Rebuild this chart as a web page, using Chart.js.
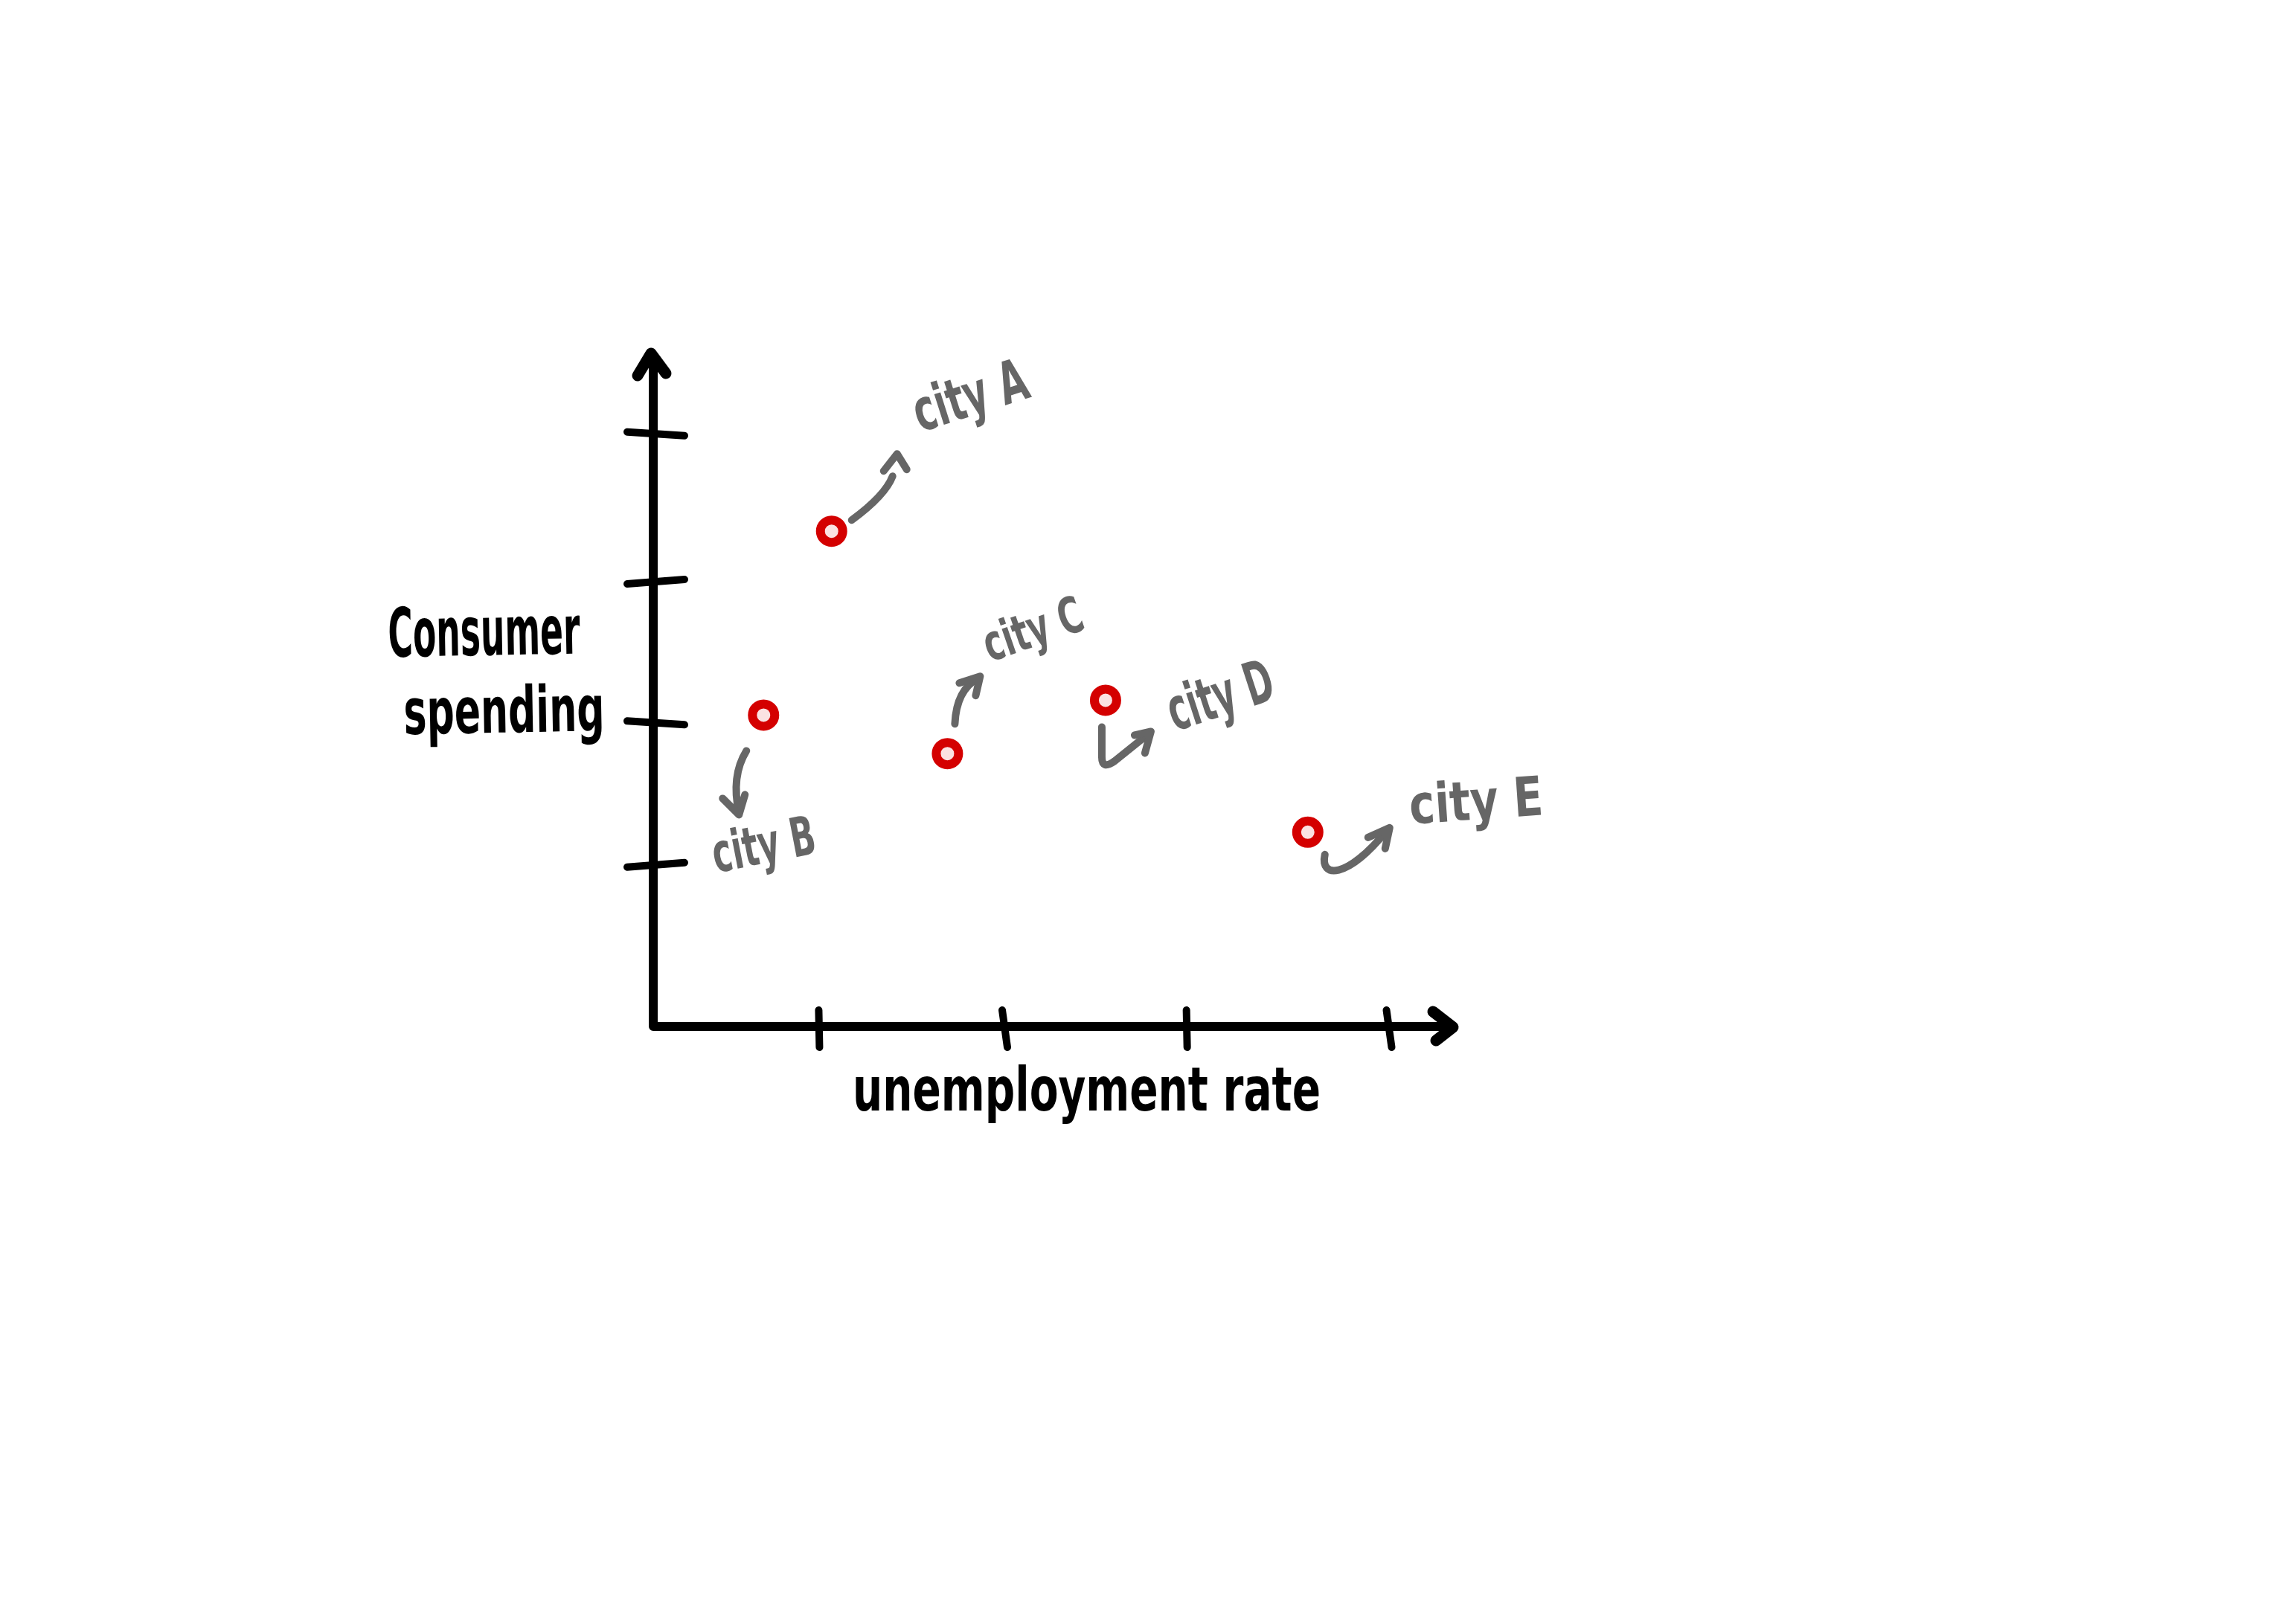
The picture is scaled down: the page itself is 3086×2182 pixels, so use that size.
<!DOCTYPE html>
<html>
<head>
<meta charset="utf-8">
<script src="https://cdn.jsdelivr.net/npm/chart.js@4.4.1/dist/chart.umd.min.js"></script>
<style>
  html, body { margin: 0; padding: 0; background: #fff; }
  #wrap { width: 3086px; height: 2182px; }
</style>
</head>
<body>
<div id="wrap"><canvas id="sketch" width="3086" height="2182"></canvas></div>
<script>
// values (axis units = tick spacing)
var cities = ["city A", "city B", "city C", "city D", "city E"];
var unemployment = [0.97, 0.60, 1.60, 2.46, 3.56];
var spending = [3.34, 2.10, 1.84, 2.20, 1.31];
var xTicks = [0.90, 1.91, 2.90, 4.00];
var yTicks = [1.09, 2.05, 3.00, 4.00];
var xMax = 4.35;
var yMax = 4.54;
var xTitle = "unemployment rate";
var yTitle = ["Consumer", "spending"];

var ink = "#000000";
var pencil = "#666666";

// where each label sits relative to its point (px), rotation in degrees
var labelLayout = [
    { dx: 119, dy: -133, ang: -17.6, w: 158, xh: 43 },
    { dx: -64, dy: 212, ang: -11, w: 140, xh: 40 },
    { dx: 57, dy: -123, ang: -19, w: 138, xh: 37 },
    { dx: 93, dy: 42, ang: -18, w: 146, xh: 44 },
    { dx: 138, dy: -11, ang: -4, w: 180, xh: 40 }
]

function fitText(ctx, text, x, y, w, xh, angle, color) {
    var size = xh / 0.547
    ctx.save()
    ctx.translate(x, y)
    ctx.rotate(angle * Math.PI / 180)
    ctx.font = "bold " + size + "px 'DejaVu Sans'"
    ctx.textAlign = "left"
    ctx.textBaseline = "alphabetic"
    var m = ctx.measureText(text).width
    ctx.scale(w / m, 1)
    ctx.fillStyle = color
    ctx.fillText(text, 0, 0)
    ctx.restore()
}

function head(ctx, ax, ay, l1x, l1y, l2x, l2y) {
    ctx.beginPath()
    ctx.moveTo(l1x, l1y)
    ctx.lineTo(ax, ay)
    ctx.lineTo(l2x, l2y)
    ctx.stroke()
}

// little hand arrows from each point towards its label
function drawArrow(ctx, i, px, py) {
    ctx.save()
    ctx.translate(px, py)
    ctx.strokeStyle = pencil
    ctx.lineWidth = 10
    ctx.lineCap = "round"
    ctx.lineJoin = "round"
    ctx.beginPath()
    if (i == 0) {
        ctx.moveTo(27, -15)
        ctx.quadraticCurveTo(72, -48, 82, -74)
        ctx.stroke()
        head(ctx, 88, -104, 70, -81, 101, -83)
    } else if (i == 1) {
        ctx.moveTo(-23, 48)
        ctx.quadraticCurveTo(-44, 82, -33, 132)
        ctx.stroke()
        head(ctx, -33, 134, -55, 112, -25, 107)
    } else if (i == 2) {
        ctx.moveTo(10, -40)
        ctx.quadraticCurveTo(12, -86, 42, -102)
        ctx.stroke()
        head(ctx, 44, -104, 16, -95, 38, -78)
    } else if (i == 3) {
        ctx.moveTo(-5, 36)
        ctx.lineTo(-5, 76)
        ctx.quadraticCurveTo(-5, 94, 12, 82)
        ctx.lineTo(58, 45)
        ctx.stroke()
        head(ctx, 61, 42, 39, 47, 53, 71)
    } else if (i == 4) {
        ctx.moveTo(23, 30)
        ctx.bezierCurveTo(16, 62, 52, 64, 106, -2)
        ctx.stroke()
        head(ctx, 110, -6, 81, 7, 104, 22)
    }
    ctx.restore()
}

var sketchAxes = {
    id: "sketchAxes",
    beforeDatasetsDraw: function (chart) {
        var ctx = chart.ctx
        var x = chart.scales.x, y = chart.scales.y
        var x0 = x.getPixelForValue(0), y0 = y.getPixelForValue(0)
        var xEnd = x.getPixelForValue(xMax), yEnd = y.getPixelForValue(yMax)
        ctx.save()
        ctx.strokeStyle = ink
        ctx.lineCap = "round"
        ctx.lineJoin = "round"
        ctx.lineWidth = 12
        ctx.beginPath()
        ctx.moveTo(x0, yEnd + 4)
        ctx.lineTo(x0, y0)
        ctx.lineTo(xEnd - 4, y0)
        ctx.stroke()
        // arrow heads
        ctx.lineWidth = 15
        head(ctx, x0 - 3, yEnd, x0 - 21, yEnd + 30, x0 + 17, yEnd + 27)
        head(ctx, xEnd, y0 + 1, xEnd - 27, y0 - 20, xEnd - 23, y0 + 19)
        // ticks
        ctx.lineWidth = 10
        yTicks.forEach(function (v, k) {
            var py = y.getPixelForValue(v)
            ctx.beginPath()
            ctx.moveTo(x0 - 35, py + (k % 2 ? -2 : 3))
            ctx.lineTo(x0 + 42, py + (k % 2 ? 3 : -3))
            ctx.stroke()
        })
        xTicks.forEach(function (v, k) {
            var px = x.getPixelForValue(v)
            ctx.beginPath()
            ctx.moveTo(px - (k % 2 ? 3 : 0), y0 - 22)
            ctx.lineTo(px + (k % 2 ? 4 : 1), y0 + 28)
            ctx.stroke()
        })
        ctx.restore()

        // axis titles
        fitText(ctx, yTitle[0], 522, 883, 258, 50, -1, ink)
        fitText(ctx, yTitle[1], 543, 987, 270, 47, -1, ink)
        fitText(ctx, xTitle, 1146, 1493, 629, 45, 0, ink)
    },
    afterDatasetsDraw: function (chart) {
        var ctx = chart.ctx
        var meta = chart.getDatasetMeta(0)
        meta.data.forEach(function (pt, i) {
            drawArrow(ctx, i, pt.x, pt.y)
            var L = labelLayout[i]
            fitText(ctx, cities[i], pt.x + L.dx, pt.y + L.dy, L.w, L.xh, L.ang, pencil)
        })
    }
}

var points = unemployment.map(function (u, i) {
    return { x: u, y: spending[i] }
})

new Chart(document.getElementById("sketch").getContext("2d"), {
    type: "scatter",
    data: {
        labels: cities,
        datasets: [{
            label: "cities",
            data: points,
            pointRadius: 15,
            pointHoverRadius: 15,
            borderWidth: 12,
            borderColor: "#d40000",
            backgroundColor: "#fbe2e2",
            clip: false
        }]
    },
    options: {
        responsive: false,
        animation: false,
        devicePixelRatio: 1,
        layout: { padding: { left: 878, top: 475, right: 1133, bottom: 802 } },
        scales: {
            x: { type: "linear", min: 0, max: xMax, display: false },
            y: { type: "linear", min: 0, max: yMax, display: false }
        },
        plugins: {
            legend: { display: false },
            tooltip: { enabled: false }
        }
    },
    plugins: [sketchAxes]
})
</script>
</body>
</html>
